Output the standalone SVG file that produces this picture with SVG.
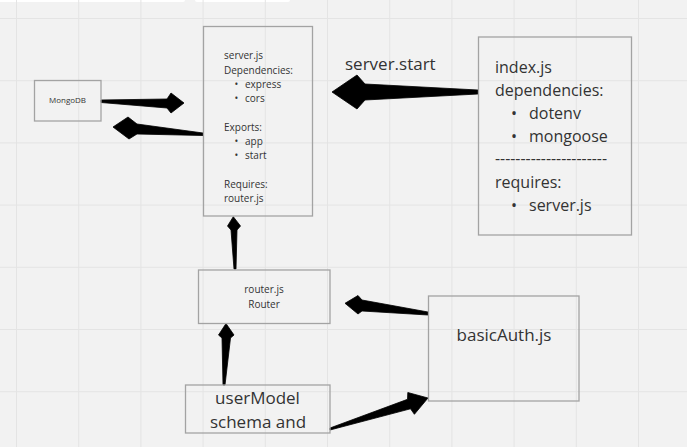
<svg xmlns="http://www.w3.org/2000/svg" width="687" height="447" viewBox="0 0 687 447">
<style>
.box{fill:none;stroke:#a3a3a3;stroke-width:1.3}
.grid{stroke:#e4e4e4;stroke-width:1;fill:none}
.t{font-family:"Open Sans","Noto Sans","Liberation Sans",sans-serif;fill:#333}
.s10{font-size:10px}
.s17{font-size:17px}
.s16{font-size:16px}
.arrow{fill:#000;stroke:#000;stroke-width:0.8;stroke-linejoin:round}
</style>
<rect x="0" y="0" width="687" height="447" fill="#f2f2f2"/>
<rect x="-4" y="-4" width="189" height="6" rx="2" fill="#ffffff"/>
<rect x="195" y="-4" width="95" height="6" rx="2" fill="#ffffff"/>
<g id="grid" class="grid">
<path d="M16.5,0V447M78.7,0V447M140.9,0V447M203.1,0V447M265.3,0V447M327.5,0V447M389.7,0V447M451.9,0V447M514.1,0V447M576.3,0V447M638.5,0V447"/>
<path d="M0,18.5H687M0,80.7H687M0,142.9H687M0,205.1H687M0,267.3H687M0,329.5H687M0,391.7H687"/>
</g>
<g id="connectors">
<path class="arrow" d="M478,90 L365,84 L357,75 L332,92 L357,109 L365,100 L478,94 Z"/>
<path class="arrow" d="M101,100 L167,99 L171,93 L184,103 L171,113 L167,108 L101,102.5 Z"/>
<path class="arrow" d="M203,133 L137,124 L128,117 L113,127 L129,139 L137,134 L203,135.5 Z"/>
<path class="arrow" d="M234,269 L231,230 L227.5,226 L233.3,216.7 L240.5,226 L237,230 L236,269 Z"/>
<path class="arrow" d="M223,385 L222,338 L218.5,335 L226,323.5 L234,335 L230.5,338 L225,385 Z"/>
<path class="arrow" d="M428,312 L362,300 L358,295.5 L345,303.3 L358,314 L362,311 L428,315 Z"/>
<path class="arrow" d="M330,428 L407.5,399.3 L407.8,392.5 L428,398 L414.4,414.3 L410.5,408.8 L330,430 Z"/>
<text class="t s17" x="345" y="70">server.start</text>
</g>
<g id="mongodb">
<rect class="box" x="34.5" y="80.5" width="66.5" height="40.5"/>
<text class="t" x="67.5" y="102.5" font-size="8" text-anchor="middle" fill="#444">MongoDB</text>
</g>
<g id="server">
<rect class="box" x="203.5" y="26.5" width="109" height="189.5"/>
<text class="t s10" x="224" y="58.5">server.js</text>
<text class="t s10" x="224" y="74">Dependencies:</text>
<text class="t s10" x="234.5" y="88">•</text>
<text class="t s10" x="245" y="88">express</text>
<text class="t s10" x="234.5" y="102">•</text>
<text class="t s10" x="245" y="102">cors</text>
<text class="t s10" x="224" y="131">Exports:</text>
<text class="t s10" x="234.5" y="145">•</text>
<text class="t s10" x="245" y="145">app</text>
<text class="t s10" x="234.5" y="159">•</text>
<text class="t s10" x="245" y="159">start</text>
<text class="t s10" x="224" y="188">Requires:</text>
<text class="t s10" x="224" y="202">router.js</text>
</g>
<g id="index">
<rect class="box" x="478.5" y="37" width="153" height="198"/>
<text class="t s16" x="495" y="73">index.js</text>
<text class="t s16" x="495" y="96">dependencies:</text>
<text class="t s16" x="511" y="119">•</text>
<text class="t s16" x="529" y="119">dotenv</text>
<text class="t s16" x="511" y="142">•</text>
<text class="t s16" x="529" y="142">mongoose</text>
<text class="t s16" x="495" y="164" textLength="112" lengthAdjust="spacingAndGlyphs">----------------------</text>
<text class="t s16" x="495" y="188">requires:</text>
<text class="t s16" x="511" y="211">•</text>
<text class="t s16" x="529" y="211">server.js</text>
</g>
<g id="router">
<rect class="box" x="198.5" y="270" width="131.5" height="53.5"/>
<text class="t s10" x="264" y="292.5" text-anchor="middle" fill="#444">router.js</text>
<text class="t s10" x="264" y="307.5" text-anchor="middle" fill="#444">Router</text>
</g>
<g id="basicauth">
<rect class="box" x="428.5" y="296" width="150.5" height="105"/>
<text class="t s17" x="504" y="341" text-anchor="middle">basicAuth.js</text>
</g>
<g id="usermodel">
<rect class="box" x="185.5" y="385" width="144.5" height="48"/>
<text class="t s17" x="257.5" y="404" text-anchor="middle">userModel</text>
<text class="t s17" x="258" y="427.5" text-anchor="middle">schema and</text>
</g>
</svg>
